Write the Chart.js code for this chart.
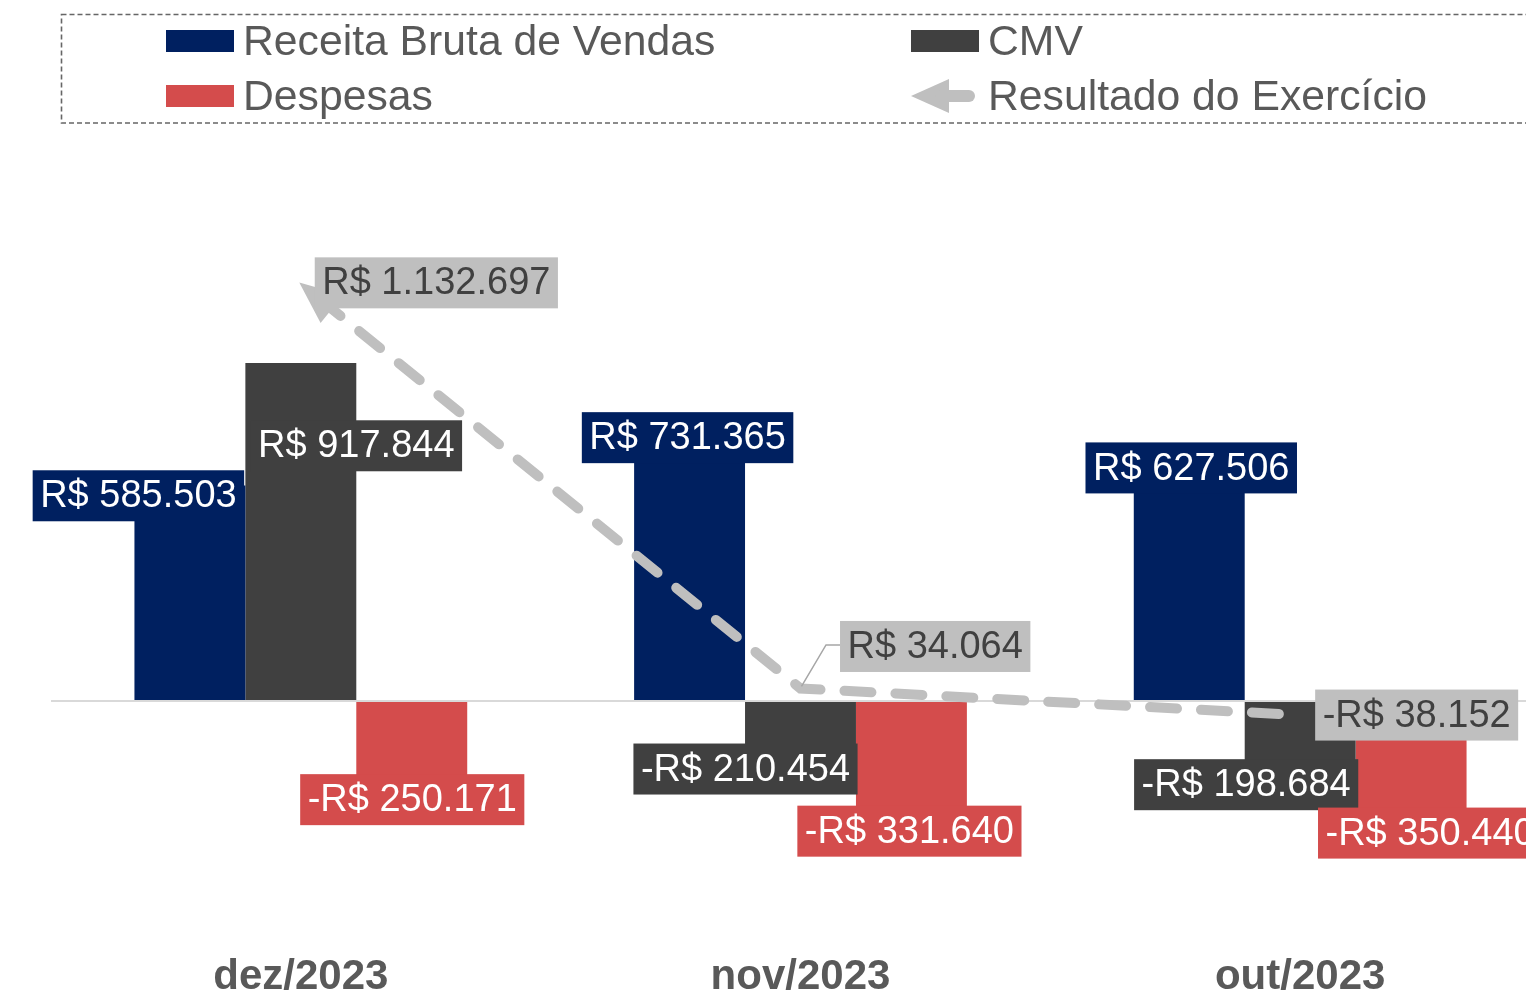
<!DOCTYPE html>
<html>
<head>
<meta charset="utf-8">
<script src="https://cdn.jsdelivr.net/npm/chart.js@4.4.1/dist/chart.umd.min.js"></script>
<style>
  html, body { margin: 0; padding: 0; background: #ffffff; overflow: hidden; }
  #wrap { position: relative; width: 1526px; height: 992px; overflow: hidden; }
  #chart { position: absolute; left: 0; top: 0; }
  #legend { position: absolute; left: 0; top: 0; pointer-events: none; }
</style>
</head>
<body>
<div id="wrap">
  <canvas id="chart" width="1550" height="992"></canvas>
  <svg id="legend" width="1526" height="135"></svg>
</div>
<script>
// chart data
const categories = ['dez/2023', 'nov/2023', 'out/2023'];
const seriesNames = ['Receita Bruta de Vendas', 'CMV', 'Despesas', 'Resultado do Exercício'];
const receita = [585503, 731365, 627506];
const cmv = [917844, -210454, -198684];
const despesas = [-250171, -331640, -350440];
const resultado = [1132697, 34064, -38152];

const FONT = "'Liberation Sans', Arial, sans-serif";
const NAVY = '#002060';
const DARK = '#404040';
const RED = '#D44C4C';
const LIGHT = '#BFBFBF';
const TEXT_GRAY = '#595959';

// label box offsets (from bar end / point), hand placed like in the source sheet
const receitaShift = [[-51.5, 10.4], [-2, 6], [2, -2]];
const cmvShift = [[55.5, 82.8], [-55, -9.5], [-54, 10.5]];
const despesasShift = [[0.5, 6.5], [-2, 8], [19, 3]];
const resultadoShift = [[135.5, -1], [134.7, -42], [116.5, 0]];

function fmtBRL(v) {
    const s = String(Math.abs(v)).replace(/\B(?=(\d{3})+(?!\d))/g, '.');
    return (v < 0 ? '-' : '') + 'R$ ' + s;
}

// draws the value boxes, the leader line and the arrow head of the result line
const valueBoxes = {
    id: 'valueBoxes',
    afterDatasetsDraw(chart) {
        const ctx = chart.ctx;
        ctx.save();

        // arrow head at the first point of the line
        const lineIdx = chart.data.datasets.findIndex(d => d.type === 'line');
        const lm = chart.getDatasetMeta(lineIdx);
        if (lm.data.length > 1) {
            const p0 = lm.data[0], p1 = lm.data[1];
            const dx = p0.x - p1.x, dy = p0.y - p1.y;
            const len = Math.sqrt(dx * dx + dy * dy);
            const ux = dx / len, uy = dy / len;
            const tipX = p0.x + ux * 2, tipY = p0.y + uy * 2;
            const bx = tipX - ux * 42, by = tipY - uy * 42;
            ctx.fillStyle = LIGHT;
            ctx.beginPath();
            ctx.moveTo(tipX, tipY);
            ctx.lineTo(bx - uy * 18, by + ux * 18);
            ctx.lineTo(bx + uy * 18, by - ux * 18);
            ctx.closePath();
            ctx.fill();
        }

        ctx.font = '38px ' + FONT;
        chart.data.datasets.forEach((ds, di) => {
            const meta = chart.getDatasetMeta(di);
            meta.data.forEach((el, i) => {
                const txt = fmtBRL(ds.data[i]);
                const w = ctx.measureText(txt).width + 15;
                const h = 51;
                const cx = el.x + ds.labelShift[i][0];
                const cy = el.y + ds.labelShift[i][1];
                const left = cx - w / 2;

                if (ds.leader && ds.leader[i]) {
                    ctx.strokeStyle = '#A6A6A6';
                    ctx.lineWidth = 1.5;
                    ctx.beginPath();
                    ctx.moveTo(el.x + 1, el.y - 2);
                    ctx.lineTo(left - 14, cy - 1.5);
                    ctx.lineTo(left, cy - 1.5);
                    ctx.stroke();
                }

                ctx.fillStyle = ds.boxColor;
                ctx.fillRect(left, cy - h / 2, w, h);
                ctx.fillStyle = ds.labelColor;
                ctx.textAlign = 'center';
                ctx.textBaseline = 'alphabetic';
                ctx.fillText(txt, cx, cy + 11.6);
            });
        });
        ctx.restore();
    }
};

const ctx = document.getElementById('chart').getContext('2d');
new Chart(ctx, {
    type: 'bar',
    data: {
        labels: categories,
        datasets: [
            {
                label: seriesNames[0],
                data: receita,
                backgroundColor: NAVY,
                boxColor: NAVY,
                labelColor: '#ffffff',
                labelShift: receitaShift,
                order: 1
            },
            {
                label: seriesNames[1],
                data: cmv,
                backgroundColor: DARK,
                boxColor: DARK,
                labelColor: '#ffffff',
                labelShift: cmvShift,
                order: 1
            },
            {
                label: seriesNames[2],
                data: despesas,
                backgroundColor: RED,
                boxColor: RED,
                labelColor: '#ffffff',
                labelShift: despesasShift,
                order: 1
            },
            {
                type: 'line',
                label: seriesNames[3],
                data: resultado,
                borderColor: LIGHT,
                borderWidth: 10,
                borderDash: [27, 24],
                borderDashOffset: 27,
                borderCapStyle: 'round',
                pointRadius: 0,
                tension: 0,
                fill: false,
                boxColor: LIGHT,
                labelColor: DARK,
                labelShift: resultadoShift,
                leader: [false, true, false],
                order: 0
            }
        ]
    },
    options: {
        responsive: false,
        devicePixelRatio: 1,
        animation: false,
        layout: { padding: { left: 51, right: 0, top: 185.4, bottom: 0 } },
        datasets: {
            bar: { categoryPercentage: 0.666, barPercentage: 1.0 }
        },
        plugins: {
            legend: { display: false },
            tooltip: { enabled: false }
        },
        scales: {
            x: {
                grid: { display: false, drawTicks: false },
                border: { display: false },
                ticks: {
                    color: TEXT_GRAY,
                    padding: 30,
                    font: { family: FONT, size: 42, weight: 'bold' }
                },
                afterFit: (scale) => { scale.height = 70; }
            },
            y: {
                min: -600000,
                max: 1400000,
                grid: {
                    drawTicks: false,
                    lineWidth: 2,
                    color: (c) => (c.tick && c.tick.value === 0 ? '#D9D9D9' : 'rgba(0,0,0,0)')
                },
                border: { display: false },
                ticks: { display: false, stepSize: 200000 },
                afterFit: (scale) => { scale.width = 0; }
            }
        }
    },
    plugins: [valueBoxes]
});

// legend (dashed box, two columns)
function buildLegend() {
    const svg = document.getElementById('legend');
    const ns = 'http://www.w3.org/2000/svg';
    const add = (tag, attrs, text) => {
        const e = document.createElementNS(ns, tag);
        for (const k in attrs) e.setAttribute(k, attrs[k]);
        if (text) e.textContent = text;
        svg.appendChild(e);
        return e;
    };
    add('rect', { x: 61.5, y: 14.5, width: 1600, height: 108.5, fill: 'none',
        stroke: '#666666', 'stroke-width': 1.6, 'stroke-dasharray': '5 3' });

    const items = [
        { name: seriesNames[0], x: 166, row: 0, color: NAVY },
        { name: seriesNames[1], x: 911, row: 0, color: DARK },
        { name: seriesNames[2], x: 166, row: 1, color: RED },
        { name: seriesNames[3], x: 911, row: 1, arrow: true }
    ];
    items.forEach(it => {
        const top = it.row === 0 ? 30 : 85;
        const base = it.row === 0 ? 55 : 110;
        if (it.arrow) {
            const cy = top + 11;
            add('path', { d: `M ${it.x} ${cy} L ${it.x + 38} ${cy - 17} L ${it.x + 38} ${cy + 17} Z`, fill: LIGHT });
            add('line', { x1: it.x + 30, y1: cy, x2: it.x + 58, y2: cy, stroke: LIGHT,
                'stroke-width': 12, 'stroke-linecap': 'round' });
        } else {
            add('rect', { x: it.x, y: top, width: 68, height: 22, fill: it.color });
        }
        add('text', { x: it.x + 77, y: base, fill: TEXT_GRAY,
            'font-family': "'Liberation Sans', Arial, sans-serif", 'font-size': 42.7 }, it.name);
    });
}
buildLegend();
</script>
</body>
</html>
